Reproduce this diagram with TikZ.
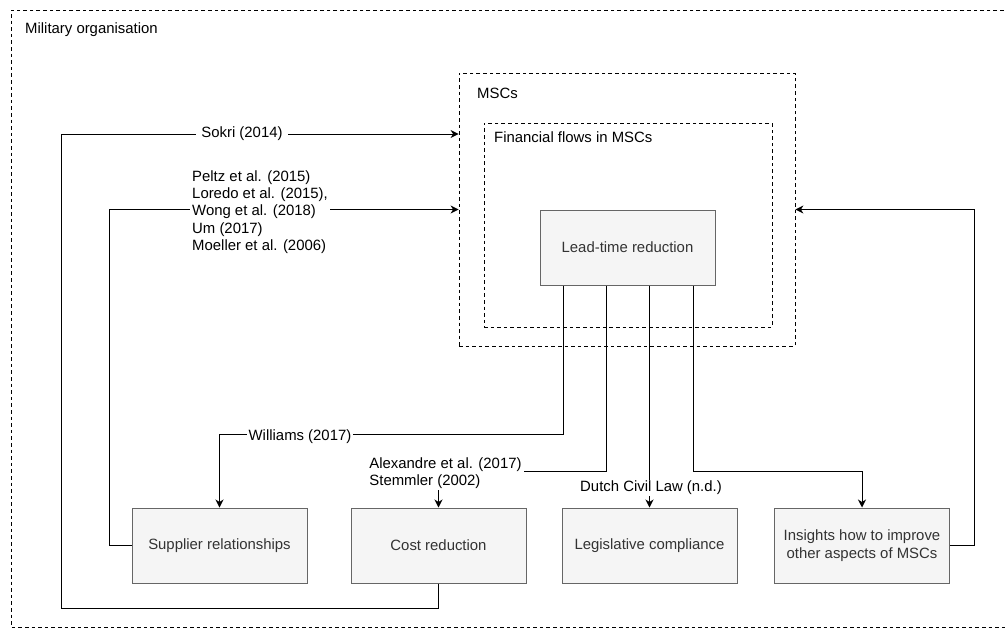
\documentclass[tikz,border=0pt]{standalone}
\usepackage{fontspec}
\setmainfont{Liberation Sans}
\usetikzlibrary{arrows.meta,calc}
\definecolor{boxfill}{HTML}{F5F5F5}
\definecolor{boxline}{HTML}{666666}
\definecolor{boxtext}{HTML}{333333}
\begin{document}
\begin{tikzpicture}[x=1pt,y=-1pt,
  every node/.style={font=\fontsize{14.9}{17.4}\selectfont},
  frame/.style={draw=black, line width=0.8pt, dash pattern=on 3.6pt off 3pt},
  topic/.style={draw=boxline, fill=boxfill, text=boxtext, line width=1pt,
    minimum width=175pt, minimum height=75pt, align=center, inner sep=2pt},
  arr/.style={draw=black, line width=1pt,
    -{Stealth[length=8pt,width=8pt,inset=2.5pt]}},
  lbl/.style={fill=white, text=black, inner xsep=2pt, inner ysep=1pt, align=left},
  caption/.style={anchor=west, text=black, inner sep=0pt}]
\useasboundingbox (0,0) rectangle (1007,630);

% outer frame (continues past the right edge)
\draw[frame] (1030,10) -- (11,10) -- (11,627) -- (1030,627);
\node[caption] (milorg) at (25,30) {Military organisation};

% nested containers
\node[frame, minimum width=336pt, minimum height=273pt, inner sep=0pt] (msc) at (627,209.5) {};
\node[caption] (msclbl) at (477,93) {MSCs};
\node[frame, minimum width=288pt, minimum height=204pt, inner sep=0pt] (fin) at (628,225) {};
\node[caption] (finlbl) at (494,137) {Financial flows in MSCs};

% core topic
\node[topic] (lead) at (627.5,247.5) {Lead-time reduction};

% outcome topics
\node[topic] (sup)  at (219.5,545.5) {Supplier relationships};
\node[topic] (cost) at (438.5,545.5) {Cost reduction};
\node[topic] (leg)  at (649.5,545.5) {Legislative compliance};
\node[topic] (ins)  at (862,545.5) {Insights how to improve\\other aspects of MSCs};

% links from lead-time reduction to the outcomes
\draw[arr] ([xshift=-64pt]lead.south) -- ++(0,149) -| (sup.north);
\draw[arr] ([xshift=-21pt]lead.south) -- ++(0,186) -| (cost.north);
\draw[arr] ([xshift=22pt]lead.south) -- (leg.north);
\draw[arr] ([xshift=66pt]lead.south) -- ++(0,186) -| (ins.north);

\node[lbl] (lwill) at (300,437) {Williams (2017)};
\node[lbl] (lalex) at (445.5,473) {Alexandre et al. (2017)\\Stemmler (2002)};
\node[lbl] (ldutch) at (651,488) {Dutch Civil Law (n.d.)};

% feedback links back into the MSCs
\draw[arr] (ins.east) -- ++(24,0) |- (msc.east);
\draw[arr] (sup.west) -- ++(-22,0) |- (msc.west);
\coordinate (skturn) at (61,134);
\draw[arr] (cost.south) -- ++(0,25) -| (skturn) -- (skturn -| msc.west);

\node[lbl, inner xsep=5pt] (lsokri) at (242,134) {Sokri (2014)};
\node[lbl] (lwong) at (260,212) {Peltz et al. (2015)\\Loredo et al. (2015),\\Wong et al. (2018)\\Um (2017)\\Moeller et al. (2006)};
\end{tikzpicture}
\end{document}
